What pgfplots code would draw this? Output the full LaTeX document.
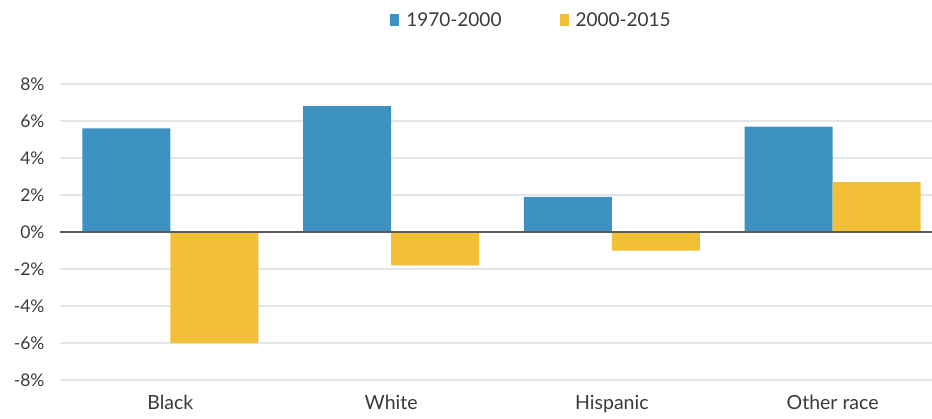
\documentclass[border=0pt]{standalone}
\usepackage{pgfplots}
\pgfplotsset{compat=1.18}
\usepackage{fontspec}
\setmainfont{Lato}
\definecolor{barblue}{HTML}{3E92C2}
\definecolor{baryellow}{HTML}{F2C037}
\definecolor{gridgray}{HTML}{E3E6E8}
\definecolor{txtgray}{HTML}{3A3A3A}
\begin{document}
\begin{tikzpicture}[x=1pt,y=1pt]
\begin{axis}[
  at={(0,0)}, anchor=south west,
  scale only axis, width=883pt, height=296pt,
  ybar=0pt, bar width=88pt,
  xmin=-0.5, xmax=3.5, ymin=-8, ymax=8,
  xtick=data,
  xticklabels={Black,White,Hispanic,Other race},
  ytick={-8,-6,...,8},
  yticklabel={\pgfmathprintnumber{\tick}\%},
  /pgf/number format/assume math mode=true,
  ymajorgrids, grid style={gridgray, line width=1.2pt},
  axis line style={draw=none},
  major tick length=0pt,
  yticklabel style={font=\fontsize{17.5}{19}\selectfont, text=txtgray, xshift=-12pt},
  xticklabel style={font=\fontsize{19.5}{21}\selectfont, text=txtgray, yshift=-12pt},
  legend style={draw=none, at={(0.534,1.216)}, anchor=center,
    legend columns=2, font=\fontsize{19}{21}\selectfont,
    text=txtgray,
    /tikz/every odd column/.append style={column sep=5pt},
    /tikz/every even column/.append style={column sep=56pt}},
  legend image code/.code={\fill[#1] (0pt,-6pt) rectangle (9pt,6pt);},
]
\addplot[fill=barblue, draw=none] coordinates {(0,5.6) (1,6.8) (2,1.9) (3,5.7)};
\addplot[fill=baryellow, draw=none] coordinates {(0,-6.0) (1,-1.8) (2,-1.0) (3,2.7)};
\legend{1970-2000,2000-2015}
\draw[line width=1.2pt, black!65] (axis cs:-0.5,0) -- (axis cs:3.5,0);
\end{axis}
% the chart is cut off on the right, as in the published figure
\pgfresetboundingbox
\path[use as bounding box] (-60,-38) rectangle (872,380);
\end{tikzpicture}
\end{document}
